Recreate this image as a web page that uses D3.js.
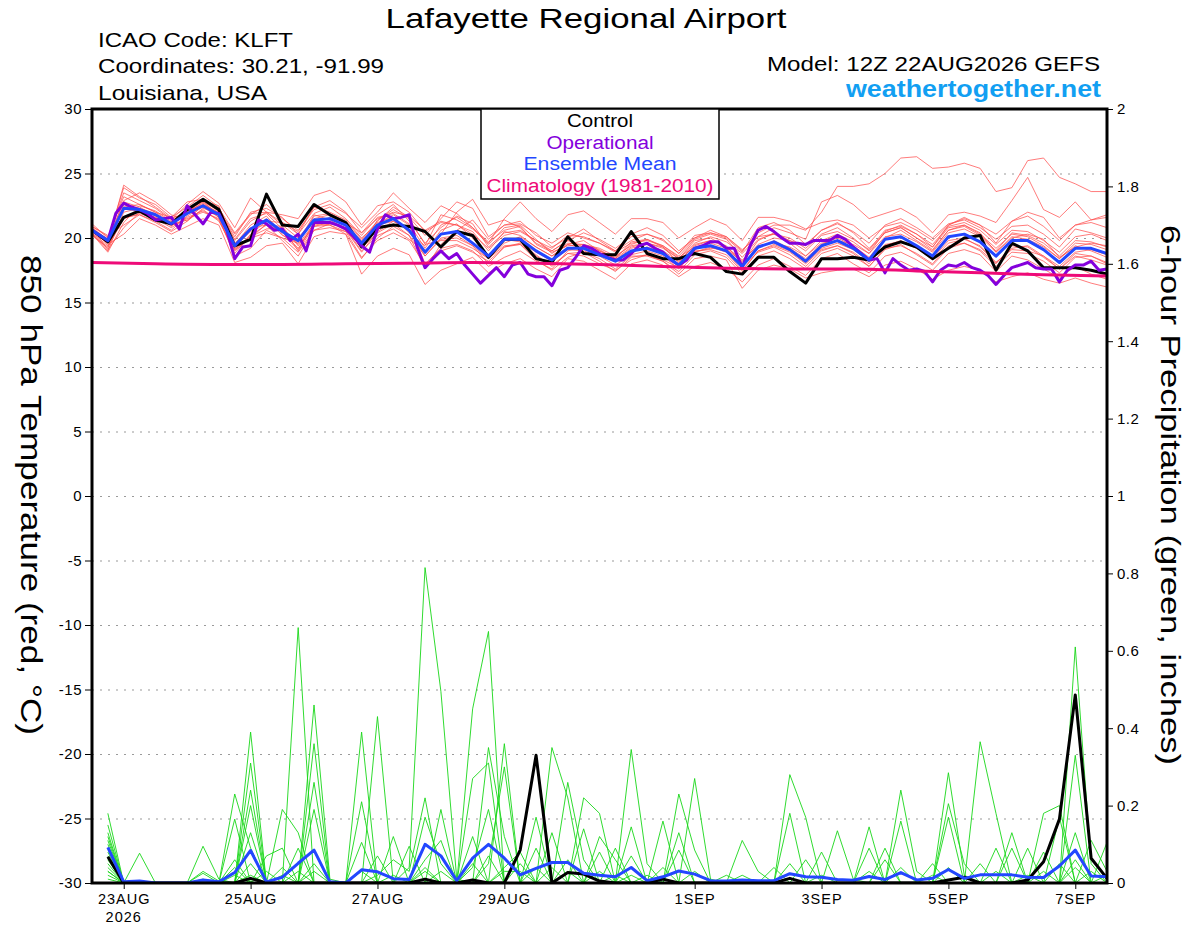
<!DOCTYPE html>
<html>
<head>
<meta charset="utf-8">
<script src="https://cdn.jsdelivr.net/npm/d3@7"></script>
<style>
  body { margin: 0; background: #fff; }
  svg { display: block; font-family: "Liberation Sans", Arial, Helvetica, sans-serif; }
</style>
</head>
<body>
<script>
// ---------------------------------------------------------------
// Chart data (GEFS 12Z 22AUG2026, KLFT)
// ---------------------------------------------------------------

var runStart = Date.UTC(2026, 7, 22, 12);   // 12Z 22AUG2026

var dayTickDates  = ['2026-08-23', '2026-08-25', '2026-08-27', '2026-08-29',
                     '2026-09-01', '2026-09-03', '2026-09-05', '2026-09-07'];
var dayTickLabels = ['23AUG', '25AUG', '27AUG', '29AUG', '1SEP', '3SEP', '5SEP', '7SEP'];
var yearLabel = '2026';

var tempTicks   = [30, 25, 20, 15, 10, 5, 0, -5, -10, -15, -20, -25, -30];
var precipTicks = [2, 1.8, 1.6, 1.4, 1.2, 1, 0.8, 0.6, 0.4, 0.2, 0];

var legendLabels = ['Control', 'Operational', 'Ensemble Mean', 'Climatology (1981-2010)'];

// 850 hPa temperature, 6-hourly from 12Z 22AUG (65 points)
var tempControl = [
  20.6, 19.7, 21.6, 22.1, 21.4, 21.1, 22.2, 23.0, 22.2, 19.4,
  19.9, 23.4, 21.0, 20.9, 22.6, 21.8, 21.2, 19.3, 20.8, 21.0,
  20.9, 20.5, 19.3, 20.5, 20.2, 18.5, 19.9, 19.9, 18.4, 18.1,
  20.1, 18.8, 18.7, 18.7, 20.5, 18.8, 18.4, 18.4, 18.8, 18.5,
  17.4, 17.2, 18.5, 18.5, 17.4, 16.5, 18.4, 18.4, 18.5, 18.3,
  19.3, 19.7, 19.3, 18.4, 19.2, 20.0, 20.2, 17.5, 19.6, 19.0,
  17.7, 17.7, 17.7, 17.5, 17.2
];

var tempMean = [
  20.6, 19.8, 22.3, 22.2, 21.8, 21.1, 21.9, 22.5, 21.8, 19.4,
  20.7, 21.4, 20.5, 19.8, 21.4, 21.5, 21.0, 19.6, 21.0, 21.5,
  20.6, 18.9, 20.3, 20.5, 19.6, 18.6, 19.9, 19.9, 19.0, 18.3,
  19.2, 19.2, 18.7, 18.2, 19.0, 19.2, 18.8, 17.9, 19.2, 19.4,
  19.0, 17.8, 19.3, 19.7, 19.1, 18.2, 19.4, 19.8, 19.2, 18.3,
  19.9, 20.1, 19.4, 18.6, 20.1, 20.3, 19.7, 18.6, 19.8, 19.8,
  19.1, 18.1, 19.2, 19.2, 18.8
];

// operational run is 3-hourly (129 points)
var tempOperational = [
  20.6, 20.2, 19.8, 21.9, 22.7, 22.4, 22.2, 21.9, 21.4, 21.5,
  21.6, 20.7, 22.5, 21.8, 21.1, 22.0, 21.9, 20.6, 18.4, 19.3,
  19.4, 21.4, 21.1, 20.6, 20.7, 19.8, 20.3, 19.0, 21.2, 21.2,
  21.2, 21.0, 20.7, 20.1, 19.4, 18.9, 20.7, 21.8, 21.5, 21.6,
  21.8, 19.3, 17.7, 18.4, 19.0, 18.4, 18.8, 17.9, 17.2, 16.5,
  17.1, 17.7, 17.0, 17.9, 18.1, 17.2, 17.0, 17.0, 16.3, 17.5,
  17.7, 18.5, 19.4, 19.2, 18.8, 18.5, 18.3, 18.3, 18.8, 19.4,
  19.6, 19.2, 18.9, 18.3, 17.9, 18.3, 19.2, 19.4, 19.7, 19.7,
  19.2, 19.2, 17.7, 19.4, 20.6, 20.9, 20.5, 20.0, 19.6, 19.6,
  19.5, 19.8, 19.8, 19.8, 20.2, 19.9, 19.3, 18.8, 18.3, 18.4,
  17.3, 18.4, 17.9, 17.5, 17.6, 17.4, 16.6, 17.5, 17.9, 17.8,
  18.1, 17.7, 17.5, 17.1, 16.4, 17.1, 17.7, 17.9, 18.1, 17.7,
  17.6, 17.6, 16.6, 17.5, 17.9, 17.9, 18.2, 17.5, 17.6
];

// climatology, one value per day at 12Z (17 points)
var tempClimatology = [
  18.1, 18.0, 17.95, 17.95, 18.0, 18.05, 18.1, 18.05, 17.95,
  17.8, 17.65, 17.6, 17.6, 17.45, 17.3, 17.15, 17.05
];

// ensemble members (65 points each)
var tempMembers = [
  [20.7,19.9,23.9,23.1,22.6,21.6,22.4,23.3,22.4,19.8, 21.3,22.0,21.2,20.3,22.4,22.9,22.0,20.4,21.8,22.6,
   21.3,19.6,20.8,21.7,21.1,19.3,20.4,20.6,19.8,19.2, 20.2,20.1,19.6,19.0,19.8,20.3,19.8,18.8,20.0,20.4,
   20.1,19.0,20.4,21.0,21.0,20.6,22.0,24.0,24.0,24.2, 25.0,26.2,26.3,25.4,25.5,25.8,25.4,23.6,23.9,26.0,
   26.2,24.7,24.2,23.6,23.6],
  [20.5,19.6,22.9,23.5,22.8,21.8,21.3,22.6,22.0,19.1, 20.2,21.0,20.9,19.4,20.9,21.2,20.8,19.2,20.4,21.1,
   20.2,18.6,20.0,20.2,19.4,18.4,19.6,20.1,19.3,18.6, 19.5,19.8,19.0,18.5,19.5,19.9,19.3,18.4,19.6,20.1,
   19.7,18.8,20.1,20.8,20.4,19.9,22.8,23.3,22.6,21.5, 21.9,22.3,21.6,20.4,21.8,22.0,21.7,21.2,22.9,24.7,
   22.2,21.6,22.8,21.4,21.8],
  [20.9,20.2,21.0,21.8,21.3,20.6,21.7,22.4,21.6,18.6, 19.2,20.6,20.0,19.6,21.7,21.9,21.3,19.9,21.3,22.4,
   21.6,20.2,21.5,22.8,22.3,20.1,21.0,21.3,20.2,19.6, 20.4,20.0,19.6,18.9,19.6,19.8,19.4,18.5,19.3,19.6,
   19.2,17.8,18.9,19.3,18.7,17.8,19.0,19.4,18.9,18.0, 19.5,19.7,19.2,18.4,19.8,20.0,19.3,18.1,19.1,19.0,
   18.6,17.6,18.6,18.3,17.9],
  [20.3,19.2,22.4,22.6,22.0,21.2,21.9,22.8,22.1,20.3, 21.8,22.6,21.5,20.6,22.2,22.6,21.9,20.8,22.0,23.5,
   22.3,21.2,22.5,21.9,20.8,19.5,20.8,21.0,19.9,18.8, 19.6,19.5,19.2,18.6,19.4,19.6,19.2,18.4,19.8,20.0,
   19.3,18.1,19.8,20.4,19.8,19.0,20.2,20.5,19.9,19.1, 20.6,20.9,20.3,19.5,20.9,21.2,20.6,19.5,20.6,20.5,
   19.8,18.9,20.1,20.3,19.8],
  [20.6,19.5,20.3,21.5,21.0,20.3,20.9,21.5,21.0,18.1, 18.5,19.4,19.6,18.0,20.1,20.5,20.3,17.2,18.6,19.2,
   18.7,16.4,17.5,18.0,18.5,17.3,18.0,18.4,17.6,17.0, 18.4,18.2,17.5,16.8,18.0,18.3,17.9,17.0,17.8,18.1,
   17.6,16.6,17.9,18.4,17.8,17.1,18.4,18.8,18.0,17.3, 18.6,18.9,18.3,17.5,18.8,19.1,18.7,17.4,18.6,18.3,
   17.6,16.9,17.8,17.2,16.8],
  [21.1,20.0,23.5,22.9,22.3,21.4,22.6,23.6,22.7,20.8, 23.1,22.0,21.8,21.5,23.3,23.7,22.8,21.0,22.5,22.8,
   22.0,20.5,21.2,21.0,20.3,19.2,20.2,20.5,19.8,19.0, 19.8,20.4,19.9,19.2,20.1,20.3,19.9,18.8,20.2,20.4,
   20.0,18.9,20.8,21.2,20.6,19.5,20.6,21.1,20.5,19.6, 21.0,21.5,20.8,20.0,21.1,21.4,20.8,19.9,20.9,21.0,
   20.3,19.3,20.7,20.4,20.0],
  [20.4,19.0,22.0,22.3,21.9,21.0,21.5,22.0,21.5,19.0, 20.0,21.1,20.5,19.2,21.0,21.2,20.6,18.9,20.5,21.3,
   20.6,18.8,20.3,22.0,23.0,21.0,21.4,20.8,19.6,19.0, 19.8,19.3,18.8,18.3,19.2,19.5,19.0,18.2,19.4,19.8,
   19.3,18.3,19.4,19.6,19.3,18.6,19.6,19.8,19.5,18.8, 20.1,20.3,19.7,18.9,20.4,20.7,20.1,18.9,20.1,19.9,
   19.3,18.4,19.4,19.0,18.5],
  [20.8,19.9,22.8,22.4,21.7,21.2,22.1,22.6,21.6,19.5, 21.0,21.7,20.3,19.1,21.2,21.0,20.5,19.4,21.4,22.2,
   21.5,19.5,19.8,19.8,19.2,18.4,19.4,19.5,18.6,17.9, 18.8,18.6,18.0,17.5,18.3,18.7,18.2,17.4,18.7,19.0,
   18.5,17.2,18.6,19.0,18.4,17.6,18.8,19.2,18.6,17.8, 19.2,19.4,18.8,18.0,19.4,19.6,19.0,17.8,18.9,18.8,
   18.2,17.3,18.5,18.6,18.0],
  [20.2,19.3,21.5,21.9,21.5,20.8,21.6,22.1,21.4,18.8, 20.3,21.3,21.2,20.5,22.4,22.0,21.4,20.0,21.1,21.8,
   21.0,18.0,19.2,19.5,19.0,17.8,18.5,19.0,18.2,17.6, 19.0,19.4,19.0,18.4,19.7,19.9,19.4,18.6,19.9,20.3,
   19.9,18.5,19.9,20.3,19.6,18.6,19.8,20.3,19.7,18.8, 20.5,21.0,20.3,19.3,20.8,21.0,20.3,19.2,20.3,20.1,
   19.4,18.4,19.6,19.5,19.1],
  [20.5,19.7,24.1,23.2,22.4,21.5,22.0,22.7,21.9,19.9, 21.5,21.9,20.7,19.5,21.1,21.6,21.1,19.8,21.2,21.6,
   20.4,19.4,21.8,21.4,20.7,19.6,21.5,22.8,21.5,20.5, 21.8,22.1,21.2,20.3,21.5,21.5,21.2,20.0,20.8,21.5,
   21.0,19.8,21.6,21.6,21.3,20.7,21.2,21.4,21.0,20.0, 20.9,21.2,20.6,19.8,21.0,21.6,21.0,20.3,21.3,21.7,
   20.9,19.8,21.0,21.2,20.8],
  [20.7,19.1,20.8,22.0,21.6,21.2,22.3,22.8,21.8,19.3, 20.5,21.5,20.2,19.7,21.8,21.4,20.7,19.0,20.2,20.7,
   19.9,18.9,20.6,21.1,20.0,18.6,19.9,19.7,18.9,18.2, 19.1,19.0,18.6,17.9,18.7,19.0,18.6,17.6,19.0,19.1,
   18.7,17.4,19.0,19.4,18.9,18.0,19.1,19.4,18.8,17.8, 19.1,19.5,18.7,17.9,19.2,19.6,19.1,18.0,19.4,19.3,
   18.5,17.6,18.8,18.6,18.1],
  [20.6,19.6,22.6,22.2,21.8,20.9,22.0,22.9,22.1,20.1, 22.0,22.3,21.6,20.3,21.9,22.4,21.5,20.2,21.6,21.9,
   21.1,19.2,21.0,21.6,20.8,19.7,20.6,20.9,19.5,18.9, 19.4,19.5,19.1,18.4,19.3,19.6,19.3,18.1,19.5,19.8,
   19.4,18.0,19.2,19.8,19.2,18.4,19.5,20.0,19.4,18.5, 20.0,20.6,19.8,19.0,20.6,20.9,20.2,19.0,20.4,20.2,
   19.6,18.6,19.8,19.7,19.3],
  [20.4,19.4,21.6,21.8,21.2,20.5,21.3,22.3,21.9,19.6, 20.8,21.0,19.8,18.6,20.6,20.8,20.5,18.5,19.8,20.4,
   19.8,17.9,19.0,19.4,18.9,18.2,19.3,19.6,18.7,17.8, 18.8,18.9,18.4,17.6,18.6,18.6,18.2,17.2,18.4,18.6,
   18.3,16.1,17.5,17.9,17.6,16.9,17.3,17.5,17.6,17.0, 17.9,18.2,17.6,16.8,17.5,17.8,17.5,16.6,17.0,17.3,
   16.8,16.5,16.9,16.5,16.2],
  [20.9,20.1,23.2,22.6,22.0,21.6,22.8,23.0,22.3,20.4, 21.9,22.0,21.0,20.0,21.5,21.8,21.2,20.4,21.5,22.0,
   21.7,20.6,21.3,21.0,20.5,19.0,20.5,20.2,19.3,18.6, 19.5,19.2,18.9,18.2,18.9,19.3,18.9,17.9,18.9,19.2,
   19.1,18.2,19.5,20.0,19.8,19.4,20.6,21.2,20.4,19.2, 20.4,20.8,20.0,19.3,21.0,21.5,21.0,19.6,21.3,22.0,
   21.6,20.0,21.0,21.4,21.6],
  [20.3,18.9,21.2,22.5,22.1,21.3,22.2,22.9,22.5,19.2, 20.1,20.7,20.8,19.0,20.9,21.0,20.3,18.4,20.0,20.9,
   20.2,17.6,19.5,20.6,21.4,19.9,21.0,21.1,20.4,19.3, 20.0,20.7,19.8,19.0,20.3,20.8,20.2,19.0,20.0,20.6,
   20.1,19.1,20.1,20.3,20.0,19.2,20.3,20.8,20.0,19.0, 20.4,20.8,20.0,19.1,20.6,21.0,20.4,18.9,20.0,20.3,
   19.9,18.5,19.3,19.6,19.4],
  [20.6,19.8,22.4,22.0,21.6,21.0,21.4,22.2,21.3,19.1, 20.0,20.4,20.0,18.9,20.6,21.1,20.8,19.5,21.0,21.3,
   20.6,18.6,19.9,20.0,19.4,18.0,19.3,19.5,18.3,17.5, 18.5,18.9,18.2,17.4,18.5,18.7,18.3,17.7,18.9,19.3,
   18.9,17.5,19.0,19.5,19.0,18.1,19.2,19.6,19.1,18.2, 19.4,19.8,19.2,18.3,19.6,19.9,19.4,18.1,19.2,19.4,
   18.6,17.8,18.9,19.1,18.7]
];

// 6-hour precipitation (inches), 18Z 22AUG .. 12Z 7SEP (64 points)
var precipControl = [
  0.068, 0, 0, 0, 0, 0, 0, 0,
  0, 0.012, 0, 0, 0, 0, 0, 0,
  0, 0, 0, 0, 0.01, 0, 0, 0.008,
  0, 0, 0.085, 0.33, 0, 0.027, 0.023, 0.005,
  0, 0, 0, 0.01, 0, 0, 0, 0,
  0, 0, 0, 0.012, 0, 0, 0, 0,
  0, 0, 0, 0, 0, 0.008, 0.015, 0,
  0, 0, 0.008, 0.055, 0.165, 0.486, 0.064, 0.012
];

var precipMean = [
  0.092, 0.003, 0.005, 0, 0, 0, 0.008, 0.003,
  0.027, 0.084, 0.003, 0.015, 0.051, 0.085, 0.003, 0,
  0.034, 0.029, 0.011, 0.009, 0.10, 0.07, 0.006, 0.064,
  0.10, 0.064, 0.021, 0.038, 0.053, 0.053, 0.025, 0.02,
  0.016, 0.04, 0.006, 0.016, 0.031, 0.023, 0.006, 0.005,
  0.008, 0.006, 0.006, 0.024, 0.016, 0.015, 0.009, 0.007,
  0.017, 0.009, 0.027, 0.008, 0.012, 0.035, 0.012, 0.021,
  0.021, 0.021, 0.015, 0.014, 0.044, 0.085, 0.018, 0.016
];

var precipMembers = [
  [.18,0,0,0,0,0,0,0, .23,.09,0,0,0,.05,0,0, 0,0,.02,0,.17,.05,0,0, 0,0,0,0,.04,0,0,.12,
   .06,0,0,0,0,0,0,0, 0,0,0,0,0,.08,0,0, 0,0,0,0,.05,0,0,0, 0,0,0,.03,0,.61,.05,0],
  [.15,0,0,0,0,0,0,0, 0,.39,0,0,0,0,0,0, .105,0,0,0,0,0,0,.27, .31,0,0,0,0,.03,0,0,
   0,.07,0,0,0,0,0,0, 0,0,.04,0,0,0,0,0, 0,0,.24,.03,0,0,0,0, 0,0,0,0,0,0,0,.105],
  [.13,0,0,0,0,0,.095,.01, 0,0,0,.02,0,.26,0,0, 0,0,0,.095,0,0,0,0, 0,.04,.08,0,0,0,0,.03,
   0,0,0,0,0,0,0,0, 0,0,0,.28,.17,0,0,0, 0,0,0,0,0,0,0,0, 0,0,0,.18,.2,0,0,0],
  [.10,0,0,0,0,0,0,0, .165,0,0,0,0,.46,.01,0, 0,0,0,0,0,.03,0,0, .07,0,0,0,0,.26,.06,0,
   0,0,0,0,0,0,0,.02, 0,0,0,0,0,0,0,0, .09,0,0,0,0,0,0,0, .09,0,0,0,0,0,0,.02],
  [.06,0,.077,0,0,0,0,0, 0,.31,0,0,0,0,0,0, 0,.07,0,0,.04,0,0,0, 0,0,0,.17,0,0,0,0,
   0,.02,0,0,.23,.085,0,0, 0,0,0,0,0,0,0,0, 0,0,0,0,0,.205,.05,0, 0,0,0,0,0,0,0,0],
  [.08,0,0,0,0,0,.03,.005, 0,.02,0,0,.03,0,0,0, .39,0,0,0,0,0,0,0, .05,.3,0,0,0,0,0,0,
   0,.345,.05,0,0,0,0,0, 0,0,0,0,0,0,0,0, 0,.06,0,0,0,0,0,0, 0,.09,0,0,0,.33,0,0],
  [.04,0,0,0,0,0,0,0, .06,0,.07,.09,0,0,0,0, 0,0,.12,0,0,0,0,.12, 0,0,.05,0,0,.06,0,0,
   0,0,0,.16,0,0,0,0, 0,0,0,0,0,0,.135,.01, 0,0,0,0,0,.04,0,0, 0,0,0,0,.05,0,0,0],
  [.12,0,0,0,0,0,0,0, 0,.24,0,0,0,.03,0,0, 0,0,0,.04,.815,.495,.01,0, 0,0,0,0,0,0,.14,0,
   0,0,0,0,0,.03,0,0, 0,0,0,0,0,0,0,0, .03,0,0,0,0,0,0,.365, .18,0,0,0,0,0,0,0],
  [.03,0,0,0,0,0,.025,0, 0,0,0,.19,.13,0,0,0, 0,0,0,0,0,0,0,.04, .19,0,0,0,0,0,0,.08,
   0,0,0,0,0,0,0,0, .11,.03,0,0,0,0,0,0, 0,0,0,0,0,0,0,0, 0,0,.02,0,0,0,.11,.03],
  [.05,0,0,0,0,0,0,0, .04,0,0,0,.66,0,0,0, 0,0,0,0,.06,.11,0,0, 0,0,0,.09,0,0,0,0,
   .09,0,0,0,.085,0,0,0, 0,0,0,0,0,.02,0,0, 0,0,.16,0,0,0,0,0, 0,0,0,.08,0,.13,0,0],
  [.02,0,0,0,0,0,.01,0, 0,.2,0,0,0,0,0,0, .21,0,0,0,0,0,0,0, .35,.12,0,0,0,0,0,0,
   0,.145,0,0,0,0,0,0, 0,0,0,.18,0,0,0,0, 0,0,0,0,.02,0,0,0, 0,.13,0,0,0,0,0,0],
  [.07,0,0,0,0,0,0,0, 0,0,.03,0,.09,0,0,0, 0,.43,0,0,0,0,0,.05, 0,0,0,0,.13,0,0,0,
   0,0,0,.04,0,0,0,0, 0,0,0,0,.06,0,0,0, 0,0,0,0,0,.285,.02,0, 0,0,0,0,0,.06,0,0],
  [.09,0,0,0,0,0,0,0, .02,0,0,0,0,.36,0,0, 0,0,0,0,0,.19,0,0, 0,.03,.03,0,.35,.22,0,0,
   0,0,0,0,.13,0,0,0, 0,0,0,0,0,0,0,0, .145,0,0,0,0,.17,0,0, 0,0,0,0,0,0,.03,0],
  [.03,0,0,0,0,0,0,0, 0,.13,0,0,0,0,0,0, 0,.02,.06,.03,.22,0,0,0, 0,0,0,.04,0,0,.22,.18,
   0,0,0,0,0,0,0,0, .02,0,0,0,0,0,0,0, 0,0,.04,0,0,0,0,0, 0,0,.09,0,0,0,0,0],
  [.01,0,0,0,0,0,0,0, 0,0,0,.04,0,.19,0,0, 0,0,0,0,.03,0,0,0, 0,.36,0,0,0,0,0,0,
   0,0,.02,0,0,0,0,0, 0,0,0,.05,0,0,0,0, 0,.09,0,0,0,0,0,.05, 0,0,0,0,0,.04,0,0],
  [.11,0,0,0,0,0,0,0, 0,.05,0,0,0,0,0,0, .03,0,0,0,0,0,0,.45, .65,0,0,0,0,0,0,0,
   .02,0,0,0,0,.27,.01,0, 0,0,0,0,0,0,0,0, 0,0,0,0,0,0,0,0, .03,0,0,0,.17,0,0,0]
];

// ---------------------------------------------------------------
// Setup
// ---------------------------------------------------------------

var width = 1200, height = 927;
var plot = { left: 92, right: 1107, top: 109, bottom: 883 };

var HOUR = 3600 * 1000;

var colors = {
  member: 'rgb(255,72,72)',
  precip: 'rgb(25,215,25)',
  control: '#000000',
  operational: '#8400dc',
  mean: '#2347ff',
  climatology: '#ee0a78',
  site: '#129ff2',
  grid: '#9a9a9a'
};

var svg = d3.select('body').append('svg')
  .attr('width', width)
  .attr('height', height);

var x = d3.scaleUtc()
  .domain([new Date(runStart), new Date(runStart + 64 * 6 * HOUR)])
  .range([plot.left, plot.right]);

var yTemp = d3.scaleLinear().domain([-30, 30]).range([plot.bottom, plot.top]);
var yPrecip = d3.scaleLinear().domain([0, 2]).range([plot.bottom, plot.top]);

// time of a sample: step index times step length, offset in steps
function timeAt(i, stepHours, offsetSteps) {
  return new Date(runStart + (i + (offsetSteps || 0)) * stepHours * HOUR);
}

function seriesLine(yScale, stepHours, offsetSteps) {
  return d3.line()
    .x(function (d, i) { return x(timeAt(i, stepHours, offsetSteps)); })
    .y(function (d) { return yScale(d); });
}

// text stretched to the width it has in the original (wide Helvetica look)
function wideText(sel, len) {
  return sel.attr('textLength', len).attr('lengthAdjust', 'spacingAndGlyphs');
}

svg.append('clipPath').attr('id', 'plot-clip')
  .append('rect')
  .attr('x', plot.left).attr('y', plot.top)
  .attr('width', plot.right - plot.left)
  .attr('height', plot.bottom - plot.top);

// ---------------------------------------------------------------
// Grid (dotted, on the temperature ticks)
// ---------------------------------------------------------------

svg.append('g').selectAll('line')
  .data(tempTicks.filter(function (t) { return t > -30 && t < 30; }))
  .enter().append('line')
  .attr('x1', plot.left).attr('x2', plot.right)
  .attr('y1', function (d) { return yTemp(d) + 0.5; })
  .attr('y2', function (d) { return yTemp(d) + 0.5; })
  .attr('stroke', colors.grid)
  .attr('stroke-width', 1.2)
  .attr('stroke-dasharray', '2,6');

// ---------------------------------------------------------------
// Series
// ---------------------------------------------------------------

var lines = svg.append('g').attr('clip-path', 'url(#plot-clip)')
  .attr('fill', 'none')
  .attr('stroke-linejoin', 'round');

// temperature members
lines.append('g').selectAll('path')
  .data(tempMembers)
  .enter().append('path')
  .attr('d', seriesLine(yTemp, 6))
  .attr('stroke', colors.member)
  .attr('stroke-opacity', 0.8)
  .attr('stroke-width', 0.9);

// precipitation members
lines.append('g').selectAll('path')
  .data(precipMembers)
  .enter().append('path')
  .attr('d', seriesLine(yPrecip, 6, 1))
  .attr('stroke', colors.precip)
  .attr('stroke-width', 0.9);

// precipitation control + mean
lines.append('path').datum(precipControl)
  .attr('d', seriesLine(yPrecip, 6, 1))
  .attr('stroke', colors.control).attr('stroke-width', 3);

lines.append('path').datum(precipMean)
  .attr('d', seriesLine(yPrecip, 6, 1))
  .attr('stroke', colors.mean).attr('stroke-width', 3);

// temperature control, operational, mean, climatology
lines.append('path').datum(tempControl)
  .attr('d', seriesLine(yTemp, 6))
  .attr('stroke', colors.control).attr('stroke-width', 3);

lines.append('path').datum(tempOperational)
  .attr('d', seriesLine(yTemp, 3))
  .attr('stroke', colors.operational).attr('stroke-width', 3);

lines.append('path').datum(tempMean)
  .attr('d', seriesLine(yTemp, 6))
  .attr('stroke', colors.mean).attr('stroke-width', 3);

lines.append('path').datum(tempClimatology)
  .attr('d', seriesLine(yTemp, 24).curve(d3.curveMonotoneX))
  .attr('stroke', colors.climatology).attr('stroke-width', 3);

// ---------------------------------------------------------------
// Axes
// ---------------------------------------------------------------

var leftAxis = svg.append('g')
  .attr('transform', 'translate(' + plot.left + ',0)')
  .call(d3.axisLeft(yTemp).tickValues(tempTicks).tickSize(7).tickPadding(3)
    .tickFormat(function (d) { return String(d); }));

var rightAxis = svg.append('g')
  .attr('transform', 'translate(' + plot.right + ',0)')
  .call(d3.axisRight(yPrecip).tickValues(precipTicks).tickSize(6).tickPadding(4)
    .tickFormat(function (d) { return String(d); }));

var bottomAxis = svg.append('g')
  .attr('transform', 'translate(0,' + plot.bottom + ')')
  .call(d3.axisBottom(x)
    .tickValues(dayTickDates.map(function (s) { return new Date(s + 'T00:00:00Z'); }))
    .tickSize(6).tickPadding(5)
    .tickFormat(function (d, i) { return dayTickLabels[i]; }));

[leftAxis, rightAxis, bottomAxis].forEach(function (g) {
  g.select('.domain').remove();
  g.selectAll('.tick line').attr('stroke', '#000').attr('stroke-width', 1);
  g.selectAll('.tick text')
    .attr('fill', '#000')
    .style('font-family', '"Liberation Sans", Arial, sans-serif')
    .style('font-size', '15px')
    .style('letter-spacing', '0.5px');
});

bottomAxis.selectAll('.tick text')
  .attr('y', 21).attr('dy', 0)
  .style('font-size', '14.5px')
  .style('letter-spacing', '1px');

// year under the first date
svg.append('text')
  .attr('x', x(new Date(dayTickDates[0] + 'T00:00:00Z')))
  .attr('y', 922)
  .attr('text-anchor', 'middle')
  .style('font-size', '14.5px')
  .style('letter-spacing', '1px')
  .text(yearLabel);

// plot frame
svg.append('rect')
  .attr('x', plot.left).attr('y', plot.top)
  .attr('width', plot.right - plot.left)
  .attr('height', plot.bottom - plot.top)
  .attr('fill', 'none')
  .attr('stroke', '#000')
  .attr('stroke-width', 3);

// axis titles (read top to bottom)
wideText(svg.append('text')
  .attr('transform', 'translate(21,495) rotate(90)')
  .attr('text-anchor', 'middle')
  .style('font-size', '29px')
  .text('850 hPa Temperature (red, \u00B0C)'), 480);

wideText(svg.append('text')
  .attr('transform', 'translate(1161,495) rotate(90)')
  .attr('text-anchor', 'middle')
  .style('font-size', '28px')
  .text('6-hour Precipitation (green, inches)'), 540);

// ---------------------------------------------------------------
// Legend
// ---------------------------------------------------------------

var legendColors = [colors.control, colors.operational, colors.mean, colors.climatology];
var legendWidths = [66, 107, 153, 227];

svg.append('rect')
  .attr('x', 481).attr('y', plot.top)
  .attr('width', 238).attr('height', 90)
  .attr('fill', '#fff')
  .attr('stroke', '#000')
  .attr('stroke-width', 1.5);

svg.append('g').selectAll('text')
  .data(legendLabels)
  .enter().append('text')
  .attr('x', 600)
  .attr('y', function (d, i) { return 127 + i * 21.6; })
  .attr('text-anchor', 'middle')
  .attr('fill', function (d, i) { return legendColors[i]; })
  .attr('textLength', function (d, i) { return legendWidths[i]; })
  .attr('lengthAdjust', 'spacingAndGlyphs')
  .style('font-size', '18px')
  .text(function (d) { return d; });

// ---------------------------------------------------------------
// Titles
// ---------------------------------------------------------------

wideText(svg.append('text')
  .attr('x', 586).attr('y', 28)
  .attr('text-anchor', 'middle')
  .style('font-size', '28px')
  .text('Lafayette Regional Airport'), 401);

var infoLines = ['ICAO Code: KLFT', 'Coordinates: 30.21, -91.99', 'Louisiana, USA'];
var infoWidths = [195, 286, 169];

svg.append('g').selectAll('text')
  .data(infoLines)
  .enter().append('text')
  .attr('x', 98)
  .attr('y', function (d, i) { return 47 + i * 26.3; })
  .attr('textLength', function (d, i) { return infoWidths[i]; })
  .attr('lengthAdjust', 'spacingAndGlyphs')
  .style('font-size', '21px')
  .text(function (d) { return d; });

wideText(svg.append('text')
  .attr('x', 1100).attr('y', 71)
  .attr('text-anchor', 'end')
  .style('font-size', '20px')
  .text('Model: 12Z 22AUG2026 GEFS'), 333);

wideText(svg.append('text')
  .attr('x', 1101).attr('y', 97)
  .attr('text-anchor', 'end')
  .attr('fill', colors.site)
  .style('font-size', '24px')
  .style('font-weight', 'bold')
  .text('weathertogether.net'), 255);
</script>
</body>
</html>
